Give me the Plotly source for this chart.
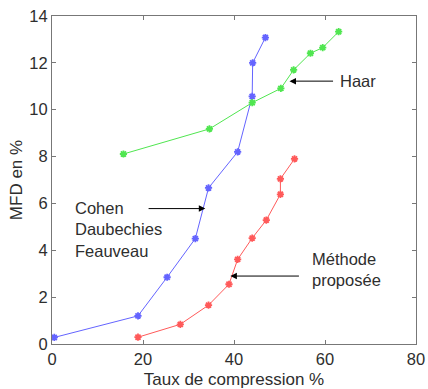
import plotly.graph_objects as go

# Data
cdf_x = [0.5, 18.9, 25.3, 31.5, 34.4, 40.8, 44.0, 44.1, 46.9]
cdf_y = [0.28, 1.2, 2.85, 4.5, 6.66, 8.2, 10.57, 12.0, 13.08]

haar_x = [15.7, 34.6, 44.0, 50.3, 53.1, 56.8, 59.5, 63.0]
haar_y = [8.11, 9.18, 10.3, 10.91, 11.7, 12.41, 12.65, 13.33]

prop_x = [18.9, 28.2, 34.4, 38.9, 40.8, 44.0, 47.1, 50.2, 50.2, 53.3]
prop_y = [0.29, 0.84, 1.66, 2.55, 3.61, 4.52, 5.29, 6.39, 7.05, 7.9]

x_ticks = [0, 20, 40, 60, 80]
y_ticks = [0, 2, 4, 6, 8, 10, 12, 14]

FONT = "Liberation Sans, Arial, sans-serif"
TXT = "#2e2e2e"

fig = go.Figure()

def add_series(x, y, color):
    fig.add_trace(go.Scatter(
        x=x, y=y, mode="lines+markers",
        line=dict(color=color, width=1),
        marker=dict(symbol="asterisk-open", size=6,
                    line=dict(color=color, width=1.8)),
        showlegend=False, hoverinfo="skip"))

add_series(cdf_x, cdf_y, "rgb(100,100,255)")
add_series(haar_x, haar_y, "rgb(80,230,80)")
add_series(prop_x, prop_y, "rgb(255,90,90)")

# Arrows (tip, tail)
arrows = [
    (52.2, 11.22, 62.1, 11.22),
    (33.7, 5.78, 20.9, 5.78),
    (39.2, 2.9, 54.6, 2.9),
]
for tx, ty, sx, sy in arrows:
    fig.add_annotation(x=tx, y=ty, ax=sx, ay=sy, xref="x", yref="y",
                       axref="x", ayref="y", text="", showarrow=True,
                       arrowhead=2, arrowsize=1.3, arrowwidth=1,
                       arrowcolor="black")

labels = [
    (62.9, 11.22, "Haar"),
    (4.6, 4.9, "Cohen<br>Daubechies<br>Feauveau"),
    (56.8, 3.2, "Méthode<br>proposée"),
]
for lx, ly, txt in labels:
    fig.add_annotation(x=lx, y=ly, xref="x", yref="y", text=txt,
                       showarrow=False, xanchor="left", yanchor="middle",
                       align="left",
                       font=dict(family=FONT, size=16.5, color=TXT))

axis_common = dict(
    showgrid=False, zeroline=False, showline=True, linecolor="#777",
    linewidth=1.2, mirror="ticks", ticks="inside", ticklen=4,
    tickcolor="#777", tickfont=dict(family=FONT, size=16.5, color=TXT),
    automargin=False,
)

fig.update_xaxes(range=[0, 80], tickvals=x_ticks,
                 title=dict(text="Taux de compression %", standoff=8,
                            font=dict(family=FONT, size=17, color=TXT)),
                 **axis_common)
fig.update_yaxes(range=[0, 14], tickvals=y_ticks,
                 title=dict(text="MFD en %", standoff=2,
                            font=dict(family=FONT, size=17, color=TXT)),
                 **axis_common)

fig.update_layout(
    width=428, height=389,
    margin=dict(l=52, r=12, t=16, b=45),
    plot_bgcolor="white", paper_bgcolor="white",
)

fig.write_html("out.html")
